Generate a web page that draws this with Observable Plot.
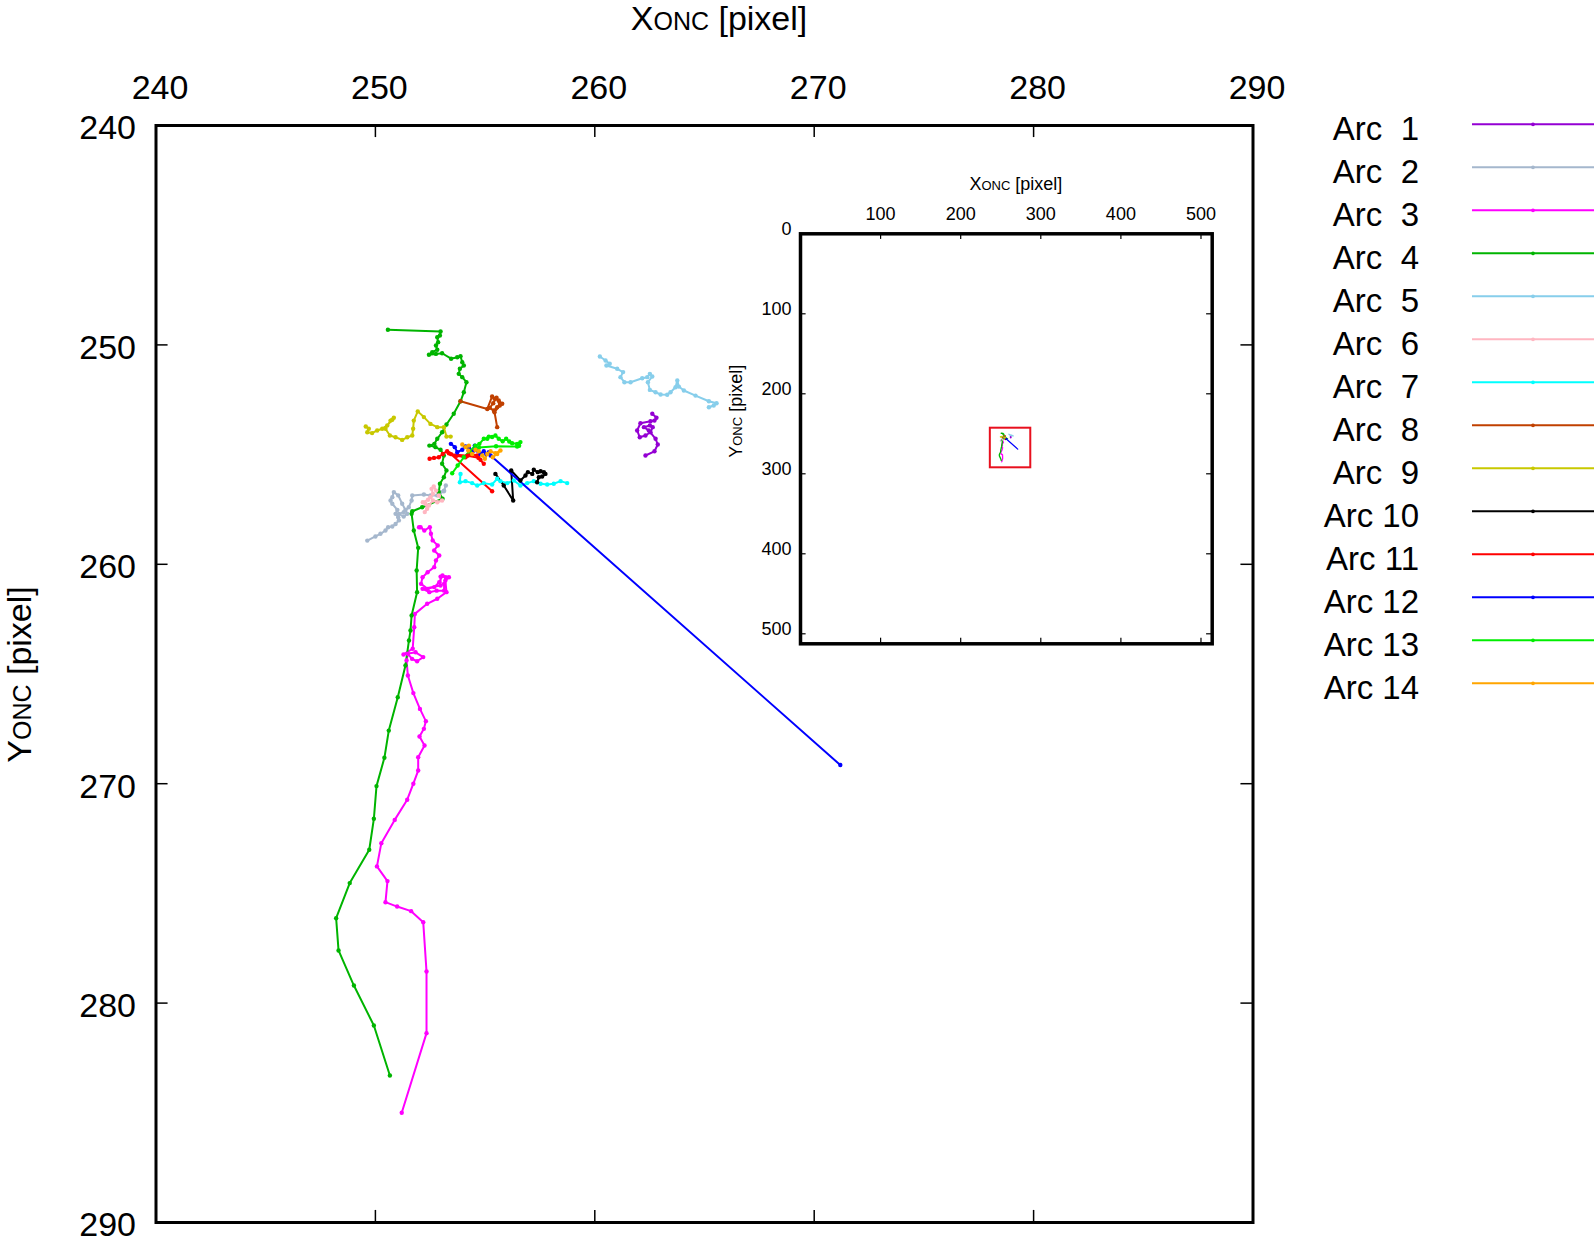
<!DOCTYPE html>
<html>
<head>
<meta charset="utf-8">
<script src="https://cdn.jsdelivr.net/npm/d3@7"></script>
<script src="https://cdn.jsdelivr.net/npm/@observablehq/plot@0.6"></script>
<style>
  html, body { margin: 0; padding: 0; background: #fff; }
  #wrap { position: relative; width: 1594px; height: 1245px; overflow: hidden; background: #fff; }
  #main { position: absolute; left: 0; top: 0; }
  #inset { position: absolute; left: 700px; top: 160px; }
  #legend { position: absolute; left: 1260px; top: 0px; }
</style>
</head>
<body>
<div id="wrap"><div id="main"></div><div id="inset"></div><svg id="legend" width="334" height="720"></svg></div>
<script>
// ---------- data ----------
const arcNames = ["Arc  1","Arc  2","Arc  3","Arc  4","Arc  5","Arc  6","Arc  7","Arc  8","Arc  9","Arc 10","Arc 11","Arc 12","Arc 13","Arc 14"];
const arcColors = ["#9400d3","#a5b7cd","#ff00ff","#00b400","#87ceeb","#ffb6c1","#00ffff","#c04000","#c8c800","#000000","#ff0000","#0000ff","#00ee00","#ffa500"];

const arc1 = [[262.62,253.14],[262.81,253.32],[262.72,253.45],[262.54,253.48],[262.08,253.57],[261.93,253.90],[262.05,254.21],[262.31,254.13],[262.54,253.98],[262.64,253.75],[262.51,253.67],[262.24,253.75],[262.46,253.90],[262.77,254.28],[262.87,254.54],[262.72,254.85],[262.31,255.04]];
const arc2 = [[249.63,258.92],[250.00,258.73],[250.23,258.61],[250.46,258.46],[250.58,258.31],[250.77,258.28],[250.92,258.16],[251.07,258.00],[251.04,257.85],[250.92,257.70],[251.00,257.52],[250.77,257.24],[250.69,257.09],[250.77,256.94],[250.84,256.71],[251.04,256.86],[251.22,257.24],[251.37,257.52],[251.45,257.70],[251.29,257.82],[251.07,257.70],[251.29,257.62],[251.52,257.40],[251.65,257.09],[251.68,256.86],[252.21,256.82],[252.51,256.86],[252.82,256.86],[252.97,256.71],[253.12,256.67],[253.21,256.41],[253.13,256.64]];
const arc3 = [[251.99,258.31],[252.06,258.31],[252.23,258.46],[252.48,258.31],[252.53,258.61],[252.61,258.91],[252.84,259.14],[252.68,259.37],[252.91,259.60],[252.76,259.83],[252.68,260.13],[252.38,260.36],[252.15,260.59],[252.08,260.89],[252.38,261.12],[252.68,261.04],[252.91,260.82],[253.06,260.51],[253.21,260.59],[253.13,260.89],[253.13,261.20],[252.79,261.20],[252.46,261.27],[252.15,261.12],[252.97,260.97],[252.97,260.56],[253.35,260.59],[253.19,260.74],[253.24,261.27],[252.82,261.57],[252.36,261.80],[251.80,262.26],[251.77,262.87],[251.70,263.85],[251.28,264.11],[251.83,264.01],[252.18,264.23],[251.90,264.42],[251.67,264.31],[251.48,264.08],[251.42,264.38],[251.48,265.07],[251.73,265.87],[252.03,266.59],[252.30,267.15],[252.21,267.50],[252.01,267.85],[252.24,268.26],[251.95,268.79],[251.95,269.40],[251.73,270.00],[251.45,270.73],[250.88,271.65],[250.27,272.71],[250.07,273.77],[250.55,274.44],[250.46,275.40],[250.99,275.60],[251.63,275.81],[252.18,276.31],[252.33,278.56],[252.33,281.37],[251.20,285.00]];
const arc4 = [[250.57,249.31],[252.97,249.39],[252.94,249.57],[252.82,249.65],[252.86,249.88],[252.76,250.03],[252.82,250.22],[252.59,250.33],[252.44,250.45],[252.76,250.41],[253.04,250.38],[253.45,250.63],[253.73,250.56],[253.88,250.52],[253.96,250.79],[254.03,250.94],[253.85,251.09],[253.80,251.32],[253.96,251.47],[254.15,251.70],[254.03,252.16],[253.88,252.57],[253.57,253.14],[253.24,253.63],[253.04,253.98],[252.82,254.28],[252.69,254.51],[252.46,254.59],[252.74,254.66],[252.97,254.78],[253.12,255.04],[253.04,255.42],[253.24,255.72],[253.12,256.03],[252.94,256.33],[252.89,256.71],[253.06,257.01],[252.13,257.40],[251.68,257.58],[251.65,257.70],[251.75,258.46],[251.95,259.25],[251.88,260.28],[251.90,261.27],[251.65,262.33],[251.60,263.02],[251.53,263.47],[251.37,264.61],[251.02,266.06],[250.61,267.58],[250.41,268.82],[250.05,270.11],[249.93,271.60],[249.72,273.01],[248.83,274.53],[248.21,276.13],[248.32,277.60],[249.02,279.20],[249.93,281.02],[250.66,283.30]];
const arc5 = [[260.23,250.53],[260.49,250.71],[260.68,250.86],[260.53,250.94],[261.02,251.09],[261.29,251.24],[261.17,251.47],[261.35,251.70],[261.63,251.70],[262.16,251.52],[262.39,251.47],[262.51,251.32],[262.62,251.44],[262.42,251.70],[262.51,252.05],[262.77,252.16],[263.00,252.26],[263.30,252.27],[263.45,252.16],[263.68,251.93],[263.76,251.62],[263.83,251.90],[264.06,252.08],[264.59,252.31],[265.20,252.57],[265.55,252.66],[265.42,252.76],[265.20,252.84]];
const arc6 = [[252.25,257.62],[252.36,257.47],[252.28,257.24],[252.16,257.17],[252.40,257.06],[252.51,256.94],[252.62,256.79],[252.56,256.56],[252.66,256.45],[252.77,256.64],[252.89,256.86],[253.04,257.09],[252.82,257.17],[252.62,257.09],[252.44,257.32]];
const arc7 = [[253.88,255.88],[253.85,256.26],[254.11,256.21],[254.41,256.30],[254.64,256.41],[254.94,256.30],[255.32,256.36],[255.55,256.10],[255.70,256.21],[256.01,256.30],[256.31,256.18],[256.61,256.41],[256.92,256.30],[257.22,256.21],[257.53,256.33],[257.83,256.36],[258.13,256.33],[258.44,256.21],[258.74,256.30]];
const arc8 = [[253.88,252.57],[255.10,252.92],[255.32,252.35],[255.43,252.46],[255.62,252.53],[255.78,252.68],[255.55,252.84],[255.40,252.99],[255.21,252.87],[255.37,252.66],[255.52,252.41],[255.67,252.76],[255.43,253.07],[255.55,253.75]];
const arc9 = [[249.56,253.72],[249.70,253.82],[249.63,253.98],[249.85,254.02],[250.08,253.90],[250.31,253.82],[250.54,253.67],[250.77,253.41],[250.84,253.32],[250.69,253.45],[250.46,253.82],[250.66,254.13],[250.92,254.21],[251.22,254.33],[251.45,254.21],[251.68,254.13],[251.72,253.82],[251.75,253.45],[251.93,253.03],[252.21,253.29],[252.51,253.60],[252.82,253.75],[253.12,253.75],[253.24,254.18],[253.43,254.18]];
const arc10 = [[255.47,255.88],[255.85,256.41],[256.28,257.09],[256.19,255.72],[256.61,256.18],[256.84,255.95],[256.95,255.80],[257.15,255.88],[257.22,255.69],[257.40,255.80],[257.53,255.76],[257.68,255.80],[257.75,255.88],[257.60,256.00],[257.45,256.03],[257.37,256.26]];
const arc11 = [[252.47,255.19],[252.67,255.15],[252.89,255.12],[253.07,254.97],[253.27,254.85],[253.35,254.94],[253.70,255.05],[254.11,255.12],[254.34,254.97],[254.64,255.04],[254.79,255.24],[254.94,255.42],[254.70,255.15],[254.20,255.05],[253.45,254.98],[255.32,256.67]];
const arc12 = [[253.44,254.51],[253.62,254.66],[253.73,254.89],[253.96,254.78],[254.11,254.63],[254.26,254.69],[254.41,254.89],[254.53,254.59],[254.64,254.81],[254.79,254.97],[254.94,254.85],[255.05,254.97],[255.17,254.89],[255.25,255.04],[271.19,269.15]];
const arc13 = [[253.50,255.85],[253.75,255.50],[254.03,255.12],[254.30,254.85],[254.55,254.60],[254.74,254.51],[254.94,254.28],[255.10,254.28],[255.17,254.18],[255.32,254.20],[255.47,254.13],[255.62,254.28],[255.80,254.39],[255.96,254.28],[256.10,254.40],[256.23,254.48],[256.46,254.51],[256.61,254.43],[256.55,254.60],[256.46,254.63],[255.50,254.62],[254.72,254.68]];
const arc14 = [[253.96,254.54],[254.11,254.66],[254.26,254.59],[254.23,254.81],[254.41,254.97],[254.56,254.78],[254.71,254.85],[254.87,255.04],[254.99,255.19],[255.10,254.97],[255.25,254.85],[255.47,254.94],[255.70,254.81],[255.55,254.97],[255.35,255.12]];
const arcs = [arc1,arc2,arc3,arc4,arc5,arc6,arc7,arc8,arc9,arc10,arc11,arc12,arc13,arc14];

const xDomain = [240, 290];
const yDomain = [240, 290];
const xTicks = [240, 250, 260, 270, 280, 290];
const yTicks = [240, 250, 260, 270, 280, 290];
const insetXDomain = [0, 514];
const insetYDomain = [0, 512.5];
const insetXTicks = [100, 200, 300, 400, 500];
const insetYTicks = [0, 100, 200, 300, 400, 500];
// zoom box as drawn in the inset (x1, x2, y1, y2)
const zoomBox = [237, 287.5, 243, 292.5];
const xTitle = ["X", "ONC", " [pixel]"];
const yTitle = ["Y", "ONC", " [pixel]"];

// ---------- build ----------
const rows = arcs.flatMap((pts, i) => pts.map(([x, y]) => ({arc: arcNames[i], x, y})));
const font = '"Liberation Sans", Arial, Helvetica, sans-serif';
const colorScale = {domain: arcNames, range: arcColors};

const mainTick = 0.55;
const innerX = xTicks.slice(1, -1), innerY = yTicks.slice(1, -1);
const main = Plot.plot({
  width: 1594, height: 1245,
  marginLeft: 155.5, marginRight: 341.5, marginTop: 125, marginBottom: 23,
  x: {domain: xDomain},
  y: {domain: yDomain, reverse: true},
  color: colorScale,
  style: {fontFamily: font, background: "transparent", color: "black", overflow: "visible"},
  marks: [
    Plot.line(rows, {x: "x", y: "y", z: "arc", stroke: "arc", strokeWidth: 2, clip: true}),
    Plot.dot(rows, {x: "x", y: "y", fill: "arc", r: 2.2, clip: true}),
    Plot.ruleX(innerX, {x: d => d, y1: yDomain[0], y2: yDomain[0] + mainTick, stroke: "black", strokeWidth: 1.5}),
    Plot.ruleX(innerX, {x: d => d, y1: yDomain[1], y2: yDomain[1] - mainTick, stroke: "black", strokeWidth: 1.5}),
    Plot.ruleY(innerY, {y: d => d, x1: xDomain[0], x2: xDomain[0] + mainTick, stroke: "black", strokeWidth: 1.5}),
    Plot.ruleY(innerY, {y: d => d, x1: xDomain[1], x2: xDomain[1] - mainTick, stroke: "black", strokeWidth: 1.5}),
    Plot.frame({stroke: "black", strokeWidth: 3}),
    Plot.axisX(xTicks, {anchor: "top", tickSize: 0, tickPadding: 27, fontSize: 34, dx: 4, label: null}),
    Plot.axisY(yTicks, {anchor: "left", tickSize: 0, tickPadding: 20, fontSize: 34, dy: 3, label: null})
  ]
});
document.getElementById("main").appendChild(main);

function addTitle(svg, parts, x, y, rotate, size, small) {
  const t = svg.append("text")
    .attr("transform", `translate(${x},${y}) rotate(${rotate})`)
    .attr("text-anchor", "middle")
    .attr("font-family", font)
    .attr("fill", "black")
    .attr("font-size", size)
    .style("white-space", "pre");
  t.append("tspan").text(parts[0]);
  t.append("tspan").attr("font-size", small).text(parts[1]);
  t.append("tspan").text(parts[2]);
}
{
  const svg = d3.select(main);
  const [x0, x1] = main.scale("x").range;
  const yr = main.scale("y").range;
  addTitle(svg, xTitle, (x0 + x1) / 2 + 15, 30, 0, 34, 25);
  addTitle(svg, yTitle, 30.5, (yr[0] + yr[1]) / 2 + 1, -90, 34, 25);
}

// ---------- inset ----------
const insetTick = 7;
const inset = Plot.plot({
  width: 520, height: 490,
  marginLeft: 100, marginRight: 8.3, marginTop: 73.3, marginBottom: 6.7,
  x: {domain: insetXDomain},
  y: {domain: insetYDomain, reverse: true},
  color: colorScale,
  style: {fontFamily: font, background: "transparent", color: "black", overflow: "visible"},
  marks: [
    Plot.frame({fill: "white", stroke: "none"}),
    Plot.line(rows, {x: "x", y: "y", z: "arc", stroke: "arc", strokeWidth: 1.3}),
    Plot.rect([{x1: zoomBox[0], x2: zoomBox[1], y1: zoomBox[2], y2: zoomBox[3]}],
      {x1: "x1", x2: "x2", y1: "y1", y2: "y2", fill: "none", stroke: "#e8101e", strokeWidth: 2}),
    Plot.ruleX(insetXTicks, {x: d => d, y1: insetYDomain[0], y2: insetYDomain[0] + insetTick, stroke: "black", strokeWidth: 1.2}),
    Plot.ruleX(insetXTicks, {x: d => d, y1: insetYDomain[1], y2: insetYDomain[1] - insetTick, stroke: "black", strokeWidth: 1.2}),
    Plot.ruleY(insetYTicks.slice(1), {y: d => d, x1: insetXDomain[0], x2: insetXDomain[0] + insetTick, stroke: "black", strokeWidth: 1.2}),
    Plot.ruleY(insetYTicks.slice(1), {y: d => d, x1: insetXDomain[1], x2: insetXDomain[1] - insetTick, stroke: "black", strokeWidth: 1.2}),
    Plot.frame({stroke: "black", strokeWidth: 3.5}),
    Plot.axisX(insetXTicks, {anchor: "top", tickSize: 0, tickPadding: 14, fontSize: 18, label: null}),
    Plot.axisY(insetYTicks, {anchor: "left", tickSize: 0, tickPadding: 9, fontSize: 18, dy: -5, label: null})
  ]
});
document.getElementById("inset").appendChild(inset);
{
  const svg = d3.select(inset);
  const [x0, x1] = inset.scale("x").range;
  const yr = inset.scale("y").range;
  addTitle(svg, xTitle, (x0 + x1) / 2 + 10, 29.5, 0, 18, 13);
  addTitle(svg, yTitle, 42.3, (yr[0] + yr[1]) / 2 - 27, -90, 18, 13);
}

// ---------- legend ----------
{
  const lg = d3.select("#legend");
  const rowH = 43.0, y0 = 124.3;
  arcNames.forEach((name, i) => {
    const y = y0 + i * rowH;
    lg.append("text")
      .attr("x", 159).attr("y", y + 15.5)
      .attr("text-anchor", "end")
      .attr("font-family", font).attr("font-size", 33)
      .style("white-space", "pre")
      .text(name);
    lg.append("line")
      .attr("x1", 212).attr("x2", 340).attr("y1", y).attr("y2", y)
      .attr("stroke", arcColors[i]).attr("stroke-width", 2);
    lg.append("circle")
      .attr("cx", 273).attr("cy", y).attr("r", 1.9)
      .attr("fill", arcColors[i]);
  });
}
</script>
</body>
</html>
